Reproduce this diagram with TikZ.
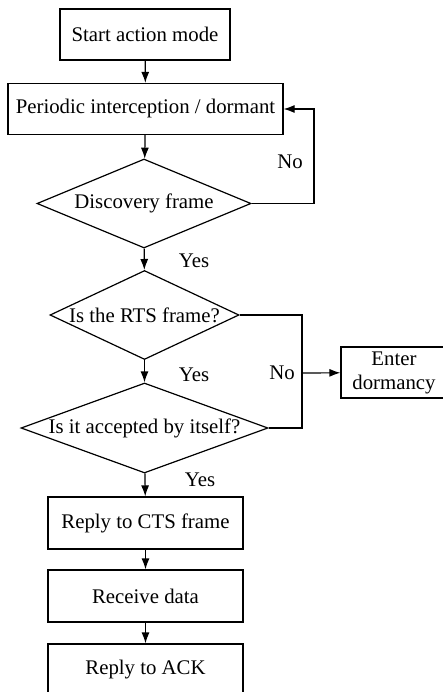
\documentclass[tikz,border=0pt]{standalone}
\usepackage{fontspec}
\setmainfont{Liberation Serif}
\usetikzlibrary{shapes.geometric,arrows.meta}
\tikzset{
  stepbox/.style={draw,rectangle,minimum height=51pt,inner sep=0pt,align=center},
  decision/.style={draw,diamond,inner xsep=-25pt,inner ysep=0pt},
  flow/.style={-{Latex[length=11pt,width=8pt]}}
}
\begin{document}
\begin{tikzpicture}[x=1pt,y=-1pt,line width=1.2pt,font=\fontsize{20.8}{24}\selectfont]
\useasboundingbox (0,0) rectangle (442,692);
\node[stepbox,minimum width=170pt] (start) at (145,34.5) {Start action mode};
\node[stepbox,minimum width=275pt] (periodic) at (145.5,109) {Periodic interception / dormant};
\node[decision,minimum width=214pt,minimum height=89pt,aspect=2.4] (disc) at (144,203.5) {Discovery frame};
\node[decision,minimum width=189pt,minimum height=89pt,aspect=2.12] (rts) at (144.5,315) {Is the RTS frame?};
\node[decision,minimum width=247pt,minimum height=90pt,aspect=2.74] (acc) at (144.5,428) {Is it accepted by itself?};
\node[stepbox,minimum width=195pt,minimum height=52pt] (cts) at (145.5,523) {Reply to CTS frame};
\node[stepbox,minimum width=195pt,minimum height=52pt] (recv) at (145.5,596) {Receive data};
\node[stepbox,minimum width=195pt,minimum height=52pt] (ack) at (145.5,670) {Reply to ACK};
\node[stepbox,minimum width=106pt] (dorm) at (394,372.5) {Enter\\dormancy};
\coordinate (loop) at (314,203.5);
\coordinate (junc) at (302,373);
\draw[flow] (start) -- (periodic);
\draw[flow] (periodic) -- (disc);
\draw[flow] (disc) -- (rts);
\draw[flow] (rts) -- (acc);
\draw[flow] (acc) -- (cts);
\draw[flow] (cts) -- (recv);
\draw[flow] (recv) -- (ack);
\draw[flow] (disc.east) -- (loop) |- (periodic.east);
\draw (rts.east) -| (junc) |- (acc.east);
\draw[flow] (junc) -- (dorm);
\node (no1) at (290,162) {No};
\node (no2) at (282,373) {No};
\node (yes1) at (194,261) {Yes};
\node (yes2) at (194,375) {Yes};
\node (yes3) at (200,480) {Yes};
\end{tikzpicture}
\end{document}
